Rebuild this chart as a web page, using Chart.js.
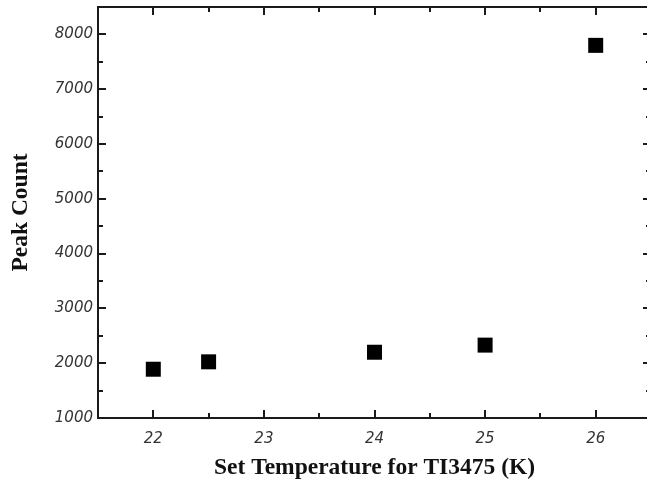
<!DOCTYPE html>
<html>
<head>
<meta charset="utf-8">
<script src="https://cdn.jsdelivr.net/npm/chart.js@4"></script>
<style>
  html, body { margin: 0; padding: 0; background: #fff; overflow: hidden; }
  #wrap { width: 647px; height: 482px; overflow: hidden; }
</style>
</head>
<body>
<div id="wrap"><canvas id="peakChart" width="660" height="482"></canvas></div>
<script>
// data
const temps = [22, 22.5, 24, 25, 26];
const peakCounts = [1890, 2025, 2200, 2330, 7800];

const xTicks = [22, 23, 24, 25, 26];
const xMinorTicks = [21.5, 22.5, 23.5, 24.5, 25.5, 26.5];
const yTicks = [1000, 2000, 3000, 4000, 5000, 6000, 7000, 8000];
const yMinorTicks = [1500, 2500, 3500, 4500, 5500, 6500, 7500, 8500];

const axisColor = '#1a1a1a';

// inward ticks on all four sides plus the frame
const frameTicks = {
  id: 'frameTicks',
  afterDraw(chart) {
    const { ctx, chartArea: a, scales: { x, y } } = chart;
    ctx.save();
    ctx.strokeStyle = axisColor;
    ctx.lineWidth = 2;
    ctx.lineCap = 'butt';
    const line = (x1, y1, x2, y2) => {
      ctx.beginPath();
      ctx.moveTo(x1, y1);
      ctx.lineTo(x2, y2);
      ctx.stroke();
    };
    const tickX = (v, len) => {
      const px = Math.round(x.getPixelForValue(v));
      line(px, a.bottom, px, a.bottom - len);
      line(px, a.top, px, a.top + len);
    };
    const tickY = (v, len) => {
      const py = Math.round(y.getPixelForValue(v));
      line(a.left, py, a.left + len, py);
      line(a.right, py, a.right - len, py);
    };
    xTicks.forEach(v => tickX(v, 8));
    xMinorTicks.forEach(v => tickX(v, 5));
    yTicks.forEach(v => tickY(v, 8));
    yMinorTicks.forEach(v => tickY(v, 5));
    ctx.strokeRect(a.left, a.top, a.right - a.left, a.bottom - a.top);
    ctx.restore();
  }
};

const tickFont = { family: '"DejaVu Sans", sans-serif', size: 15, style: 'italic' };
const titleFont = { family: '"Liberation Serif", "Times New Roman", serif', size: 23.5, weight: 'bold' };

// no extra room for edge labels, the frame sits where the reference has it
const noEdgePad = s => {
  s.paddingTop = 0;
  s.paddingBottom = 0;
  s.paddingLeft = 0;
  s.paddingRight = 0;
};

new Chart(document.getElementById('peakChart'), {
  type: 'scatter',
  data: {
    datasets: [{
      label: 'Peak Count',
      data: temps.map((t, i) => ({ x: t, y: peakCounts[i] })),
      pointStyle: 'rect',
      pointRadius: 10.6,
      pointHoverRadius: 10.6,
      backgroundColor: '#000',
      borderColor: '#000',
      borderWidth: 0
    }]
  },
  options: {
    responsive: false,
    animation: false,
    layout: { autoPadding: false, padding: { top: 7, right: 9, left: 0, bottom: 0 } },
    plugins: { legend: { display: false }, tooltip: { enabled: false } },
    scales: {
      x: {
        type: 'linear',
        min: 21.5,
        max: 26.5,
        afterBuildTicks: s => { s.ticks = xTicks.map(v => ({ value: v })); },
        afterFit: s => { s.height = 64; noEdgePad(s); },
        grid: { display: false, drawTicks: false },
        border: { display: false },
        ticks: { font: tickFont, color: '#333', padding: 12, maxRotation: 0, callback: v => String(v) },
        title: { display: true, text: 'Set Temperature for TI3475 (K)', font: titleFont, color: '#111', padding: { top: 0, bottom: 0 } }
      },
      y: {
        type: 'linear',
        min: 1000,
        max: 8500,
        afterBuildTicks: s => { s.ticks = yTicks.map(v => ({ value: v })); },
        afterFit: s => { s.width = 98; noEdgePad(s); },
        grid: { display: false, drawTicks: false },
        border: { display: false },
        ticks: { font: tickFont, color: '#333', padding: 5, callback: v => String(v) },
        title: { display: true, text: 'Peak Count', font: titleFont, color: '#111', padding: { top: 7, bottom: 0 } }
      }
    }
  },
  plugins: [frameTicks]
});
</script>
</body>
</html>
